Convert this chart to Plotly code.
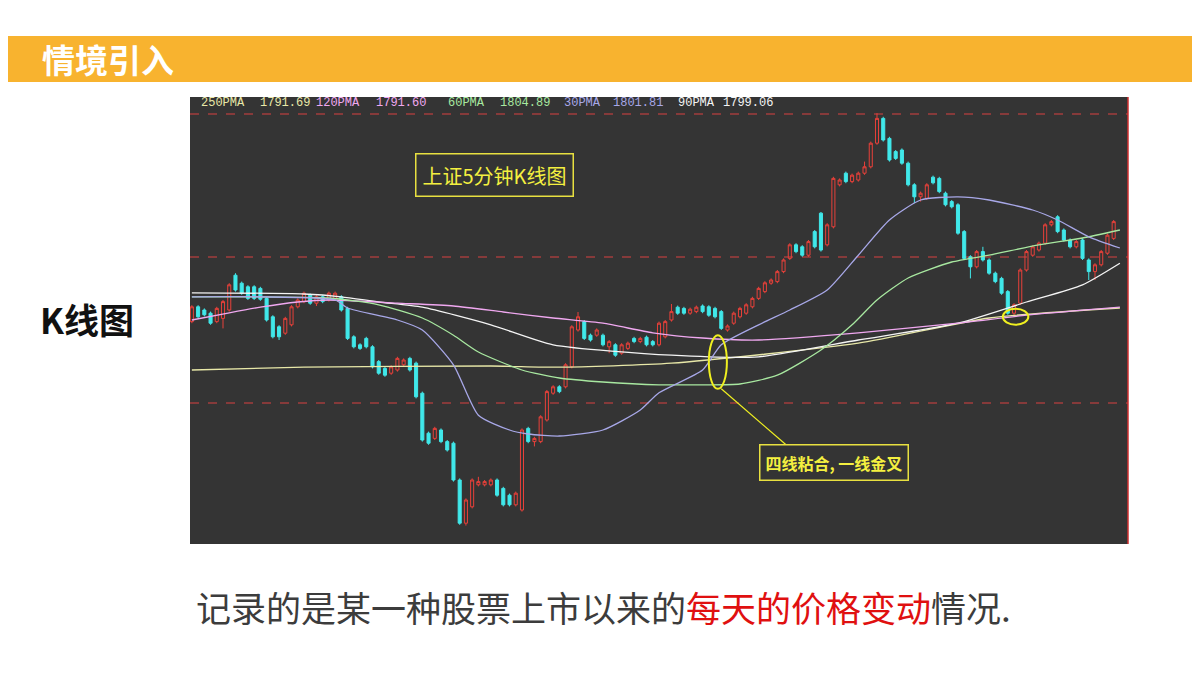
import plotly.graph_objects as go

opens = [1789.6,1793.3,1792.5,1791.7,1789.6,1790.4,1792.5,1801.2,1799.2,1798.3,1798.3,1797.9,1795.4,1790.8,1788.3,1786.7,1788.8,1793.3,1794.6,1796.2,
1794.2,1795.8,1795.0,1795.4,1795.8,1792.9,1785.8,1783.8,1785.4,1783.3,1779.6,1777.9,1776.7,1777.5,1778.8,1780.4,1779.2,1771.7,1761.7,1760.4,
1762.5,1759.6,1759.2,1750.0,1739.2,1743.3,1748.8,1748.8,1748.8,1750.0,1747.9,1746.2,1743.8,1742.5,1762.9,1759.6,1759.6,1765.0,1771.7,1773.3,
1773.3,1778.3,1787.5,1789.6,1786.2,1786.2,1786.2,1783.3,1783.8,1781.7,1782.9,1785.4,1784.6,1785.7,1784.6,1783.8,1785.8,1790.0,1793.2,1792.9,
1791.7,1792.1,1793.5,1793.3,1792.9,1792.1,1787.5,1789.2,1790.8,1791.7,1793.3,1795.4,1797.1,1799.2,1799.6,1802.1,1805.4,1808.8,1808.3,1806.2,
1812.1,1816.7,1808.8,1813.3,1823.8,1826.7,1824.6,1825.0,1826.7,1828.3,1834.2,1840.4,1835.4,1832.1,1832.5,1829.2,1823.8,1820.8,1820.4,1825.7,
1825.4,1821.7,1819.6,1818.8,1812.1,1805.8,1803.3,1807.1,1805.0,1801.7,1800.4,1797.1,1791.7,1794.2,1802.5,1806.2,1807.5,1809.2,1813.8,1815.8,
1812.5,1810.0,1808.3,1810.0,1805.0,1802.1,1803.8,1806.7,1810.4]
closes = [1793.3,1790.8,1791.3,1789.2,1792.9,1794.6,1798.8,1797.5,1796.7,1795.4,1795.4,1795.2,1790.0,1785.8,1785.8,1790.4,1793.3,1795.0,1796.7,1794.2,
1795.8,1794.6,1796.7,1796.7,1792.5,1785.4,1783.3,1782.9,1783.3,1778.3,1776.7,1776.2,1778.3,1780.4,1780.0,1777.5,1770.8,1760.0,1759.2,1762.9,
1759.6,1757.5,1750.0,1739.2,1745.0,1750.0,1749.6,1749.6,1750.0,1746.2,1743.8,1743.8,1746.7,1762.5,1759.6,1760.4,1765.8,1772.1,1773.3,1772.1,
1778.8,1788.3,1790.8,1785.4,1785.0,1787.5,1783.8,1784.6,1781.2,1783.8,1784.2,1784.6,1785.4,1783.8,1783.8,1789.2,1789.6,1792.1,1791.7,1791.7,
1792.7,1793.2,1792.1,1791.2,1790.8,1787.9,1788.5,1791.7,1792.9,1793.8,1795.4,1797.9,1799.3,1800.0,1802.1,1805.0,1808.8,1807.1,1806.2,1809.6,
1808.3,1807.5,1813.8,1825.4,1825.0,1824.6,1826.2,1826.7,1828.3,1834.2,1840.4,1835.0,1830.0,1830.4,1829.2,1823.8,1820.8,1821.7,1823.8,1824.3,
1822.1,1818.8,1818.3,1811.7,1805.4,1803.3,1807.1,1805.0,1801.7,1799.6,1796.7,1791.7,1793.8,1802.5,1807.1,1808.3,1809.2,1813.8,1814.6,1812.1,
1810.0,1808.3,1809.6,1805.4,1802.1,1803.8,1807.1,1811.2,1814.6]
wick = 0.4
high_over = {7: 1801.7, 46: 1750.8, 62: 1792.0, 77: 1794.0, 101: 1817.0, 108: 1829.6, 110: 1841.7, 127: 1808.3}
low_over = {5: 1787.9, 14: 1785.0, 20: 1793.5, 44: 1738.6, 55: 1758.4, 67: 1781.7, 116: 1819.2, 117: 1819.6, 125: 1800.4, 132: 1791.0, 144: 1800.0, 145: 1800.0}
highs = [high_over.get(i, max(o, c) + wick) for i, (o, c) in enumerate(zip(opens, closes))]
lows = [low_over.get(i, min(o, c) - wick) for i, (o, c) in enumerate(zip(opens, closes))]
idx = list(range(len(opens)))

ma30_x = [0,23,25,33,37,42,46,51,54,59,66,72,75,82,85,91,96,102,107,112,117,123,128,135,139,144,149]
ma30_y = [1795.8,1795,1793,1790,1787.5,1778.8,1766.2,1762.5,1761.5,1761,1762.5,1767.5,1771.8,1777.5,1783.8,1788.8,1792.5,1797.5,1806.2,1815,1820,1820.8,1820,1817.5,1815,1810.8,1808]
ma60_x = [0,22,30,37,42,46,53,59,66,75,82,88,94,101,106,110,115,122,128,136,143,149]
ma60_y = [1795.8,1795.5,1793.8,1790.5,1786.2,1782,1777.5,1775.5,1774.5,1773.8,1773.8,1774,1776.2,1782.5,1788.8,1795,1800.5,1804.5,1806.2,1808.8,1810.5,1812.5]
ma120_x = [0,6,11,17,22,33,42,50,58,66,74,82,91,107,123,134,149]
ma120_y = [1790,1791.8,1793.2,1794.5,1795,1794.2,1793.5,1792,1790.5,1789.2,1786.8,1785.5,1785,1786.8,1789.2,1791.2,1793.2]
ma90_x = [0,18,24,30,37,48,58,77,91,107,123,134,143,149]
ma90_y = [1796.8,1796.5,1795.8,1794.5,1793.2,1788.8,1783.8,1781.2,1780.8,1785,1789.2,1794.5,1798.8,1804.2]
ma250_x = [0,18,48,59,77,107,128,149]
ma250_y = [1777.5,1778.2,1778.5,1778.2,1779.2,1784.2,1790.5,1793]
ref_levels = [1841.5, 1805.75, 1769.25]
legend_names = ["250PMA", "120PMA", "60PMA", "30PMA", "90PMA"]
legend_vals = ["1791.69", "1791.60", "1804.89", "1801.81", "1799.06"]

OFF = 8
W, H = 1200 - OFF, 675 - OFF
def px(x): return (x - OFF) / W
def py(y): return 1 - (y - OFF) / H

fig = go.Figure()
fig.add_trace(go.Candlestick(x=idx, open=opens, high=highs, low=lows, close=closes,
    increasing=dict(line=dict(color="#e8403a", width=1), fillcolor="rgba(0,0,0,0)"),
    decreasing=dict(line=dict(color="#40e8ea", width=1), fillcolor="#40e8ea"),
    whiskerwidth=0, showlegend=False, hoverinfo="skip"))
for xs, ys, col in [(ma250_x, ma250_y, "#e8e8a8"), (ma90_x, ma90_y, "#f4f4f4"),
                    (ma120_x, ma120_y, "#f0a8f0"), (ma60_x, ma60_y, "#a8e8a0"),
                    (ma30_x, ma30_y, "#a8a8e8")]:
    fig.add_trace(go.Scatter(x=xs, y=ys, mode="lines", line=dict(color=col, width=1.3, shape="spline", smoothing=0.6),
                             showlegend=False, hoverinfo="skip"))

shapes = [
    dict(type="rect", xref="paper", yref="paper", x0=-0.02, x1=1.02, y0=py(82), y1=py(36), fillcolor="#f8b32f", line_width=0, layer="below"),
    dict(type="rect", xref="paper", yref="paper", x0=px(190), x1=px(1128), y0=py(544), y1=py(97), fillcolor="#343434", line_width=0, layer="below"),
    dict(type="line", xref="paper", yref="paper", x0=px(1128), x1=px(1128), y0=py(544), y1=py(97), line=dict(color="#d03030", width=1.5)),
]
for lv in ref_levels:
    shapes.append(dict(type="line", xref="paper", yref="y", x0=px(190), x1=px(1128), y0=lv, y1=lv,
                       line=dict(color="#d84040", width=1, dash="dash"), layer="below"))
shapes += [
    dict(type="circle", xref="x", yref="y", x0=83.0, x1=85.9, y0=1772.8, y1=1786.2, line=dict(color="#f0f020", width=2)),
    dict(type="circle", xref="x", yref="y", x0=130.2, x1=134.3, y0=1788.8, y1=1792.8, line=dict(color="#f0f020", width=2)),
    dict(type="line", xref="x", yref="y", x0=85, x1=96, y0=1772.8, y1=1758, line=dict(color="#f0f020", width=1.2)),
]

ann = [
    dict(text="<b>情境引入</b>", x=px(40), y=py(59), xanchor="left", yanchor="middle", font=dict(size=33, color="white", family="Noto Sans CJK SC")),
    dict(text="<b>K线图</b>", x=px(38), y=py(318), xanchor="left", yanchor="middle", font=dict(size=35, color="#111", family="Noto Sans CJK SC")),
    dict(text="记录的是某一种股票上市以来的<span style='color:#e01010'>每天的价格变动</span>情况.", x=px(603), y=py(606),
         xanchor="center", yanchor="middle", font=dict(size=35, color="#3c3c3c", family="Noto Sans CJK SC")),
    dict(text="上证5分钟K线图", x=px(494), y=py(175), xanchor="center", yanchor="middle", font=dict(size=20, color="#f4f040", family="Noto Sans CJK SC"),
         bordercolor="#e8e040", borderwidth=1.5, borderpad=6, bgcolor="#343434"),
    dict(text="<b>四线粘合, 一线金叉</b>", x=px(834), y=py(462), xanchor="center", yanchor="middle", font=dict(size=16, color="#f4f040", family="Noto Sans CJK SC"),
         bordercolor="#e8e040", borderwidth=1.5, borderpad=5, bgcolor="#343434"),
]
lx = [(199, 258), (314, 374), (446, 498), (562, 611), (676, 721)]
lcol = ["#e8e8a8", "#f0a8f0", "#a8e8a0", "#a8a8e8", "#f4f4f4"]
for (a, b), n, v, c in zip(lx, legend_names, legend_vals, lcol):
    ann.append(dict(text=n, x=px(a), y=py(103), xanchor="left", yanchor="middle", font=dict(size=12, color=c, family="Liberation Mono")))
    ann.append(dict(text=v, x=px(b), y=py(103), xanchor="left", yanchor="middle", font=dict(size=12, color=c, family="Liberation Mono")))
for a in ann:
    a.update(xref="paper", yref="paper", showarrow=False)

fig.update_layout(width=W, height=H, margin=dict(l=0, r=0, t=0, b=0), paper_bgcolor="white", plot_bgcolor="rgba(0,0,0,0)",
    shapes=shapes, annotations=ann, showlegend=False,
    xaxis=dict(domain=[px(190), px(1128)], range=[-0.3, 150.3], visible=False, rangeslider=dict(visible=False), fixedrange=True),
    yaxis=dict(domain=[py(544), py(97)], range=[1734, 1845.75], visible=False, fixedrange=True))
fig.write_html("out.html", config={"displayModeBar": False})
